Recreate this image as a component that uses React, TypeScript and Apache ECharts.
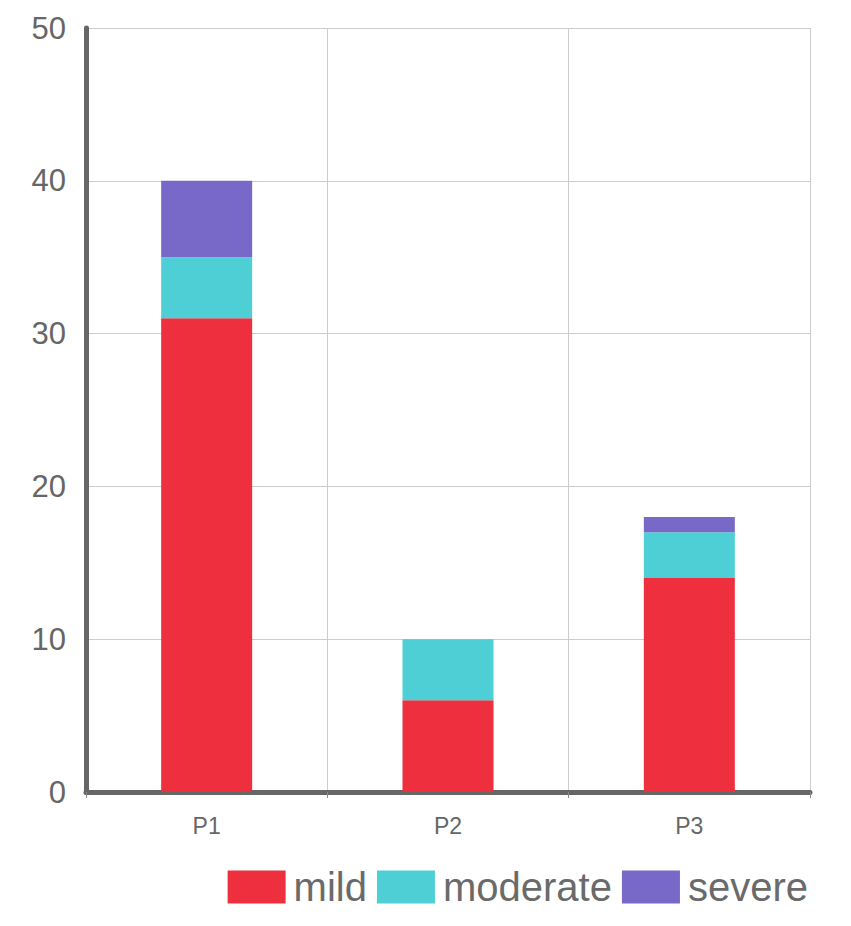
import React, { useEffect, useRef } from "react";
import * as echarts from "echarts";

const categories = ["P1", "P2", "P3"];
const mild = [31, 6, 14];
const moderate = [4, 4, 3];
const severe = [5, 0, 1];
const yTicks = [0, 10, 20, 30, 40, 50];

export default function App() {
  const ref = useRef<HTMLDivElement>(null);
  useEffect(() => {
    const chart = echarts.init(ref.current!, null, { renderer: "svg" });
    const font = "Liberation Sans";
    const mk = (name: string, data: number[], color: string) => ({
      name,
      type: "bar",
      stack: "total",
      data,
      barWidth: 91,
      itemStyle: { color },
      emphasis: { disabled: true },
    });
    chart.setOption({
      animation: false,
      grid: { left: 86, right: 41, top: 28, bottom: 134 },
      legend: {
        right: 38,
        top: 862,
        itemWidth: 58,
        itemHeight: 33,
        itemGap: 10,
        icon: "rect",
        textStyle: { fontSize: 40, color: "#6a6a6a", fontFamily: font, padding: [0, 0, 0, 3] },
        data: ["mild", "moderate", "severe"],
      },
      xAxis: {
        type: "category",
        data: categories,
        axisLine: { lineStyle: { color: "#666", width: 5 } },
        axisTick: { show: true, length: 6, lineStyle: { color: "#888", width: 1 } },
        axisLabel: { fontSize: 23, color: "#666", fontFamily: font, margin: 22 },
        splitLine: { show: true, lineStyle: { color: "#ccc", width: 1 } },
      },
      yAxis: {
        type: "value",
        min: yTicks[0],
        max: yTicks[yTicks.length - 1],
        interval: 10,
        axisLine: { show: true, lineStyle: { color: "#666", width: 5 } },
        axisTick: { show: false },
        axisLabel: { fontSize: 31, color: "#666", fontFamily: font, margin: 20 },
        splitLine: { show: true, lineStyle: { color: "#ccc", width: 1 } },
      },
      series: [
        mk("mild", mild, "#EE2F3D"),
        mk("moderate", moderate, "#4DCFD5"),
        mk("severe", severe, "#7869C8"),
      ],
    });
    return () => chart.dispose();
  }, []);
  return (
    <div
      ref={ref}
      style={{ position: "absolute", left: 0, top: 0, width: 851, height: 926, background: "#fff" }}
    />
  );
}
